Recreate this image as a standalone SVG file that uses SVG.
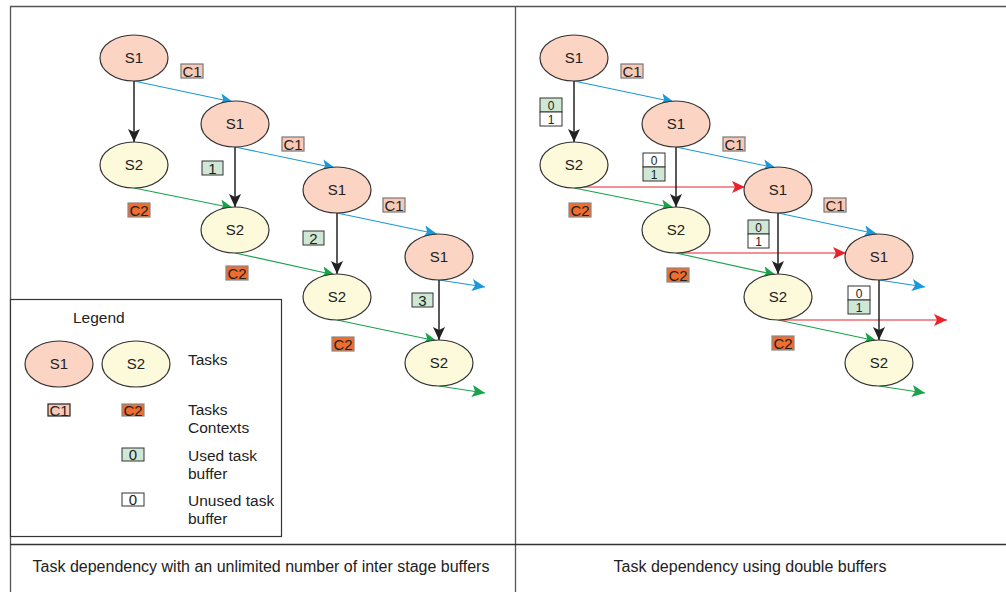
<svg xmlns="http://www.w3.org/2000/svg" width="1006" height="592" viewBox="0 0 1006 592">
  <style>
    text { font-family: "Liberation Sans", Arial, sans-serif; fill: #222; }
    .s1 { fill: #fbd4c4; stroke: #333; stroke-width: 1.2; }
    .s2 { fill: #fdfadb; stroke: #333; stroke-width: 1.2; }
    .nl { font-size: 15px; text-anchor: middle; }
    .c1 { fill: #f8c9b6; stroke: #777; stroke-width: 1.2; }
    .c2 { fill: #ee6d2f; stroke: #888; stroke-width: 1.2; }
    .used { fill: #cfe7d5; stroke: #333; stroke-width: 1; }
    .free { fill: #ffffff; stroke: #333; stroke-width: 1; }
    .bl { font-size: 15px; text-anchor: middle; }
    .pl { font-size: 12px; text-anchor: middle; }
    .lg { font-size: 15.5px; }
    .cap { font-size: 16px; text-anchor: middle; }
    .frame { stroke: #555; stroke-width: 1.3; fill: none; }
    .dep { stroke: #222; stroke-width: 1.5; fill: none; marker-end: url(#hk); }
    .s1flow { stroke: #1b98da; stroke-width: 1.1; fill: none; marker-end: url(#hb); }
    .s2flow { stroke: #17a34a; stroke-width: 1.1; fill: none; marker-end: url(#hg); }
    .buf { stroke: #e8232c; stroke-width: 1.1; fill: none; marker-end: url(#hr); }
  </style>
  <defs>
    <marker id="hk" markerUnits="userSpaceOnUse" markerWidth="14" markerHeight="12" refX="13" refY="6" orient="auto"><path d="M0,0 L13,6 L0,12 L3,6 Z" fill="#222"/></marker>
    <marker id="hb" markerUnits="userSpaceOnUse" markerWidth="14" markerHeight="12" refX="13" refY="6" orient="auto"><path d="M0,0 L13,6 L0,12 L3,6 Z" fill="#1b98da"/></marker>
    <marker id="hg" markerUnits="userSpaceOnUse" markerWidth="14" markerHeight="12" refX="13" refY="6" orient="auto"><path d="M0,0 L13,6 L0,12 L3,6 Z" fill="#17a34a"/></marker>
    <marker id="hr" markerUnits="userSpaceOnUse" markerWidth="14" markerHeight="12" refX="13" refY="6" orient="auto"><path d="M0,0 L13,6 L0,12 L3,6 Z" fill="#e8232c"/></marker>
  </defs>
  <rect width="1006" height="592" fill="#fff"/>

  <!-- panel frame -->
  <g id="frame">
    <line class="frame" x1="10" y1="6.5" x2="1006" y2="6.5"/>
    <line class="frame" x1="10.5" y1="6" x2="10.5" y2="592"/>
    <line class="frame" x1="515.5" y1="6" x2="515.5" y2="592"/>
    <line x1="10" y1="544.5" x2="1006" y2="544.5" stroke="#333" stroke-width="1.6"/>
  </g>

  <!-- connectors -->
  <g id="connectors">
    <!-- unlimited buffers -->
    <line class="s1flow" x1="134" y1="81" x2="233" y2="102"/>
    <line class="s1flow" x1="235" y1="147" x2="335" y2="168"/>
    <line class="s1flow" x1="337" y1="213" x2="437" y2="234"/>
    <line class="s1flow" x1="439" y1="280" x2="485" y2="287"/>
    <line class="s2flow" x1="134" y1="188" x2="233" y2="208"/>
    <line class="s2flow" x1="235" y1="253" x2="335" y2="275"/>
    <line class="s2flow" x1="337" y1="320" x2="437" y2="341"/>
    <line class="s2flow" x1="439" y1="386" x2="485" y2="393"/>
    <line class="dep" x1="134" y1="81" x2="134" y2="142"/>
    <line class="dep" x1="235" y1="147" x2="235" y2="207"/>
    <line class="dep" x1="337" y1="213" x2="337" y2="274"/>
    <line class="dep" x1="439" y1="280" x2="439" y2="340"/>
    <!-- double buffers -->
    <line class="s1flow" x1="574" y1="81" x2="674" y2="102"/>
    <line class="s1flow" x1="676" y1="147" x2="776" y2="168"/>
    <line class="s1flow" x1="778" y1="213" x2="877" y2="234"/>
    <line class="s1flow" x1="879" y1="280" x2="925" y2="287"/>
    <line class="s2flow" x1="574" y1="188" x2="674" y2="208"/>
    <line class="s2flow" x1="676" y1="253" x2="776" y2="275"/>
    <line class="s2flow" x1="778" y1="320" x2="877" y2="341"/>
    <line class="s2flow" x1="879" y1="386" x2="925" y2="393"/>
    <line class="buf" x1="576" y1="187" x2="745" y2="187"/>
    <line class="buf" x1="678" y1="253" x2="846" y2="253"/>
    <line class="buf" x1="780" y1="320" x2="947" y2="320"/>
    <line class="dep" x1="574" y1="81" x2="574" y2="142"/>
    <line class="dep" x1="676" y1="147" x2="676" y2="207"/>
    <line class="dep" x1="778" y1="213" x2="778" y2="274"/>
    <line class="dep" x1="879" y1="280" x2="879" y2="340"/>
  </g>

  <!-- unlimited buffers: tasks -->
  <g id="u-s1-1"><ellipse class="s1" cx="134" cy="58" rx="34" ry="23"/><text class="nl" x="134" y="63">S1</text></g>
  <g id="u-s1-2"><ellipse class="s1" cx="235" cy="124" rx="34" ry="23"/><text class="nl" x="235" y="129">S1</text></g>
  <g id="u-s1-3"><ellipse class="s1" cx="337" cy="190" rx="34" ry="23"/><text class="nl" x="337" y="195">S1</text></g>
  <g id="u-s1-4"><ellipse class="s1" cx="439" cy="257" rx="34" ry="23"/><text class="nl" x="439" y="262">S1</text></g>
  <g id="u-s2-1"><ellipse class="s2" cx="134" cy="165" rx="34" ry="23"/><text class="nl" x="134" y="170">S2</text></g>
  <g id="u-s2-2"><ellipse class="s2" cx="235" cy="230" rx="34" ry="23"/><text class="nl" x="235" y="235">S2</text></g>
  <g id="u-s2-3"><ellipse class="s2" cx="337" cy="297" rx="34" ry="23"/><text class="nl" x="337" y="302">S2</text></g>
  <g id="u-s2-4"><ellipse class="s2" cx="439" cy="363" rx="34" ry="23"/><text class="nl" x="439" y="368">S2</text></g>

  <!-- unlimited buffers: contexts and buffers -->
  <g id="u-c1-1"><rect class="c1" x="181" y="64" width="22" height="14"/><text class="bl" x="192" y="76.5">C1</text></g>
  <g id="u-c1-2"><rect class="c1" x="282" y="137" width="22" height="14"/><text class="bl" x="293" y="149.5">C1</text></g>
  <g id="u-c1-3"><rect class="c1" x="383" y="198" width="22" height="14"/><text class="bl" x="394" y="210.5">C1</text></g>
  <g id="u-c2-1"><rect class="c2" x="128" y="203" width="22" height="14"/><text class="bl" x="139" y="215.5">C2</text></g>
  <g id="u-c2-2"><rect class="c2" x="226" y="266" width="22" height="14"/><text class="bl" x="237" y="278.5">C2</text></g>
  <g id="u-c2-3"><rect class="c2" x="332" y="337" width="22" height="14"/><text class="bl" x="343" y="349.5">C2</text></g>
  <g id="u-b-1"><rect class="used" x="202" y="161" width="21" height="14"/><text class="bl" x="212.5" y="173.5">1</text></g>
  <g id="u-b-2"><rect class="used" x="303" y="231" width="21" height="14"/><text class="bl" x="313.5" y="243.5">2</text></g>
  <g id="u-b-3"><rect class="used" x="412" y="293" width="21" height="14"/><text class="bl" x="422.5" y="305.5">3</text></g>

  <!-- legend -->
  <g id="legend">
    <rect x="10.5" y="299.5" width="271" height="237" fill="#fff" stroke="#333" stroke-width="1.2"/>
    <text class="lg" x="73" y="323">Legend</text>
    <ellipse class="s1" cx="59" cy="364" rx="34" ry="23"/><text class="nl" x="59" y="369">S1</text>
    <ellipse class="s2" cx="136" cy="364" rx="34" ry="23"/><text class="nl" x="136" y="369">S2</text>
    <text class="lg" x="188" y="365">Tasks</text>
    <rect x="48" y="404" width="22" height="12" fill="#f8c9b6" stroke="#222" stroke-width="1.2"/><text class="bl" x="59" y="415.5">C1</text>
    <rect x="122" y="404" width="22" height="12" fill="#ee6d2f" stroke="#888" stroke-width="1.2"/><text class="bl" x="133" y="415.5">C2</text>
    <text class="lg" x="188" y="415">Tasks</text>
    <text class="lg" x="188" y="433">Contexts</text>
    <rect class="used" x="122" y="448" width="22" height="13"/><text class="bl" x="133" y="459.5">0</text>
    <text class="lg" x="188" y="461">Used task</text>
    <text class="lg" x="188" y="479">buffer</text>
    <rect class="free" x="122" y="493" width="22" height="13"/><text class="bl" x="133" y="504.5">0</text>
    <text class="lg" x="188" y="506">Unused task</text>
    <text class="lg" x="188" y="524">buffer</text>
  </g>

  <!-- double buffers: tasks -->
  <g id="d-s1-1"><ellipse class="s1" cx="574" cy="58" rx="34" ry="23"/><text class="nl" x="574" y="63">S1</text></g>
  <g id="d-s1-2"><ellipse class="s1" cx="676" cy="124" rx="34" ry="23"/><text class="nl" x="676" y="129">S1</text></g>
  <g id="d-s1-3"><ellipse class="s1" cx="778" cy="190" rx="34" ry="23"/><text class="nl" x="778" y="195">S1</text></g>
  <g id="d-s1-4"><ellipse class="s1" cx="879" cy="257" rx="34" ry="23"/><text class="nl" x="879" y="262">S1</text></g>
  <g id="d-s2-1"><ellipse class="s2" cx="574" cy="165" rx="34" ry="23"/><text class="nl" x="574" y="170">S2</text></g>
  <g id="d-s2-2"><ellipse class="s2" cx="676" cy="230" rx="34" ry="23"/><text class="nl" x="676" y="235">S2</text></g>
  <g id="d-s2-3"><ellipse class="s2" cx="778" cy="297" rx="34" ry="23"/><text class="nl" x="778" y="302">S2</text></g>
  <g id="d-s2-4"><ellipse class="s2" cx="879" cy="363" rx="34" ry="23"/><text class="nl" x="879" y="368">S2</text></g>

  <!-- double buffers: contexts -->
  <g id="d-c1-1"><rect class="c1" x="621" y="64" width="22" height="14"/><text class="bl" x="632" y="76.5">C1</text></g>
  <g id="d-c1-2"><rect class="c1" x="723" y="137" width="22" height="14"/><text class="bl" x="734" y="149.5">C1</text></g>
  <g id="d-c1-3"><rect class="c1" x="824" y="198" width="22" height="14"/><text class="bl" x="835" y="210.5">C1</text></g>
  <g id="d-c2-1"><rect class="c2" x="569" y="203" width="22" height="14"/><text class="bl" x="580" y="215.5">C2</text></g>
  <g id="d-c2-2"><rect class="c2" x="667" y="268" width="22" height="14"/><text class="bl" x="678" y="280.5">C2</text></g>
  <g id="d-c2-3"><rect class="c2" x="772" y="336" width="22" height="14"/><text class="bl" x="783" y="348.5">C2</text></g>

  <!-- double buffers: buffer pairs -->
  <g id="d-b-1">
    <rect class="used" x="540" y="98" width="22" height="14"/><text class="pl" x="551" y="109.5">0</text>
    <rect class="free" x="540" y="112" width="22" height="14"/><text class="pl" x="551" y="123.5">1</text>
  </g>
  <g id="d-b-2">
    <rect class="free" x="643" y="153" width="22" height="14"/><text class="pl" x="654" y="164.5">0</text>
    <rect class="used" x="643" y="167" width="22" height="14"/><text class="pl" x="654" y="178.5">1</text>
  </g>
  <g id="d-b-3">
    <rect class="used" x="748" y="220" width="21" height="14"/><text class="pl" x="758.5" y="231.5">0</text>
    <rect class="free" x="748" y="234" width="21" height="14"/><text class="pl" x="758.5" y="245.5">1</text>
  </g>
  <g id="d-b-4">
    <rect class="free" x="848" y="286" width="22" height="14"/><text class="pl" x="859" y="297.5">0</text>
    <rect class="used" x="848" y="300" width="22" height="14"/><text class="pl" x="859" y="311.5">1</text>
  </g>

  <!-- captions -->
  <g id="captions">
    <text class="cap" x="261" y="572">Task dependency with an unlimited number of inter stage buffers</text>
    <text class="cap" x="750" y="572">Task dependency using double buffers</text>
  </g>
</svg>
